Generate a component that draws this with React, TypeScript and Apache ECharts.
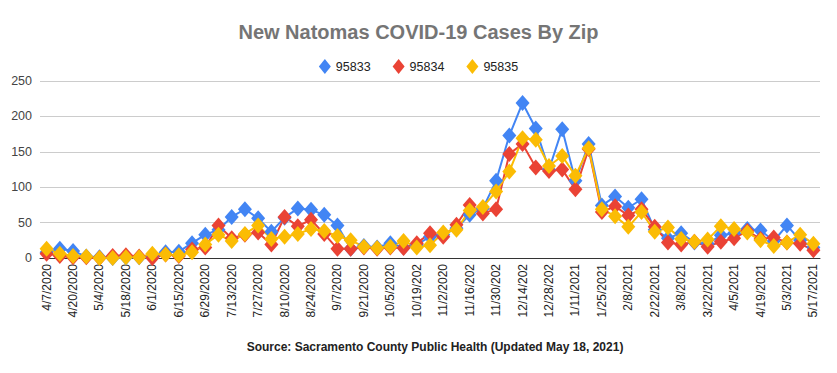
import React, { useEffect, useRef } from "react";
import * as echarts from "echarts";

const weeks = [
  "4/7/2020", "4/13/2020", "4/20/2020", "4/27/2020", "5/4/2020", "5/11/2020", "5/18/2020", "5/25/2020",
  "6/1/2020", "6/8/2020", "6/15/2020", "6/22/2020", "6/29/2020", "7/6/2020", "7/13/2020", "7/20/2020",
  "7/27/2020", "8/3/2020", "8/10/2020", "8/17/2020", "8/24/2020", "8/31/2020", "9/7/2020", "9/14/2020",
  "9/21/2020", "9/28/2020", "10/5/2020", "10/12/2020", "10/19/2020", "10/26/2020", "11/2/2020", "11/9/2020",
  "11/16/2020", "11/23/2020", "11/30/2020", "12/7/2020", "12/14/2020", "12/21/2020", "12/28/2020", "1/4/2021",
  "1/11/2021", "1/18/2021", "1/25/2021", "2/1/2021", "2/8/2021", "2/15/2021", "2/22/2021", "3/1/2021",
  "3/8/2021", "3/15/2021", "3/22/2021", "3/29/2021", "4/5/2021", "4/12/2021", "4/19/2021", "4/26/2021",
  "5/3/2021", "5/10/2021", "5/17/2021",
];

const zip95833 = [
  8, 13, 10, 2, 1, 0, 1, 1, 1, 8, 9, 21, 33, 40, 58, 69, 56, 37, 57, 70,
  68, 61, 46, 13, 17, 15, 21, 15, 19, 30, 33, 42, 61, 70, 109, 173, 219, 183, 125, 182,
  109, 161, 74, 87, 71, 83, 40, 28, 35, 22, 20, 32, 35, 41, 39, 24, 46, 25, 15,
];
const zip95834 = [
  6, 3, 1, 1, 0, 3, 4, 2, 0, 5, 3, 12, 15, 46, 28, 33, 36, 19, 58, 45,
  54, 34, 13, 13, 15, 13, 15, 14, 21, 35, 30, 47, 75, 63, 69, 147, 161, 128, 123, 125,
  97, 154, 65, 73, 60, 69, 44, 22, 19, 23, 16, 23, 28, 38, 27, 29, 22, 20, 11,
];
const zip95835 = [
  13, 6, 3, 2, 0, 0, 1, 1, 6, 5, 4, 8, 19, 33, 24, 34, 46, 27, 30, 34,
  41, 38, 31, 25, 16, 14, 16, 24, 15, 18, 36, 40, 67, 72, 94, 122, 169, 167, 130, 144,
  116, 155, 69, 59, 44, 65, 37, 43, 27, 23, 26, 45, 41, 36, 25, 17, 22, 33, 20,
];

const seriesNames = ["95833", "95834", "95835"];
const seriesColors = ["#4285F4", "#EA4335", "#FBBC04"];

const FONT = "'Liberation Sans', Arial, sans-serif";

export default function App() {
  const ref = useRef<HTMLDivElement>(null);

  useEffect(() => {
    if (!ref.current) return;
    const chart = echarts.init(ref.current, undefined, { renderer: "svg" });
    const datasets = [zip95833, zip95834, zip95835];
    chart.setOption({
      animation: false,
      backgroundColor: "#ffffff",
      textStyle: { fontFamily: FONT },
      title: {
        text: "New Natomas COVID-19 Cases By Zip",
        left: "center",
        top: 17,
        textStyle: { fontSize: 20, fontWeight: "bold", color: "#757575", fontFamily: FONT },
      },
      legend: {
        top: 54,
        left: "center",
        icon: "diamond",
        itemWidth: 12,
        itemHeight: 15,
        itemGap: 22,
        textStyle: { fontSize: 12.5, color: "#222", fontFamily: FONT },
        data: seriesNames,
      },
      grid: { left: 40, right: 17, top: 81, bottom: 115, containLabel: false },
      xAxis: {
        type: "category",
        data: weeks,
        boundaryGap: true,
        axisLine: { lineStyle: { color: "#333", width: 1 } },
        axisTick: { show: false },
        axisLabel: {
          interval: 1,
          rotate: 90,
          margin: 6,
          fontSize: 12,
          color: "#222",
          fontFamily: FONT,
          formatter: (v: string) => (v.length > 9 ? v.slice(0, 9) : v),
        },
      },
      yAxis: {
        type: "value",
        min: 0,
        max: 250,
        interval: 50,
        axisLine: { show: false },
        axisTick: { show: false },
        axisLabel: { fontSize: 12.5, color: "#444", margin: 8, fontFamily: FONT },
        splitLine: { lineStyle: { color: "#cccccc", width: 1 } },
      },
      series: seriesNames.map((name, i) => ({
        name,
        type: "line",
        data: datasets[i],
        symbol: "diamond",
        symbolSize: [14, 16],
        showAllSymbol: true,
        lineStyle: { width: 2, color: seriesColors[i] },
        itemStyle: { color: seriesColors[i] },
      })),
      graphic: [
        {
          type: "text",
          x: 435,
          y: 347,
          style: {
            text: "Source: Sacramento County Public Health (Updated May 18, 2021)",
            textAlign: "center",
            textVerticalAlign: "middle",
            font: `bold 12px ${FONT}`,
            fill: "#222",
          },
        },
      ],
    });
    return () => chart.dispose();
  }, []);

  return (
    <div
      ref={ref}
      style={{ position: "fixed", left: 0, top: 0, width: 837, height: 373 }}
    />
  );
}
